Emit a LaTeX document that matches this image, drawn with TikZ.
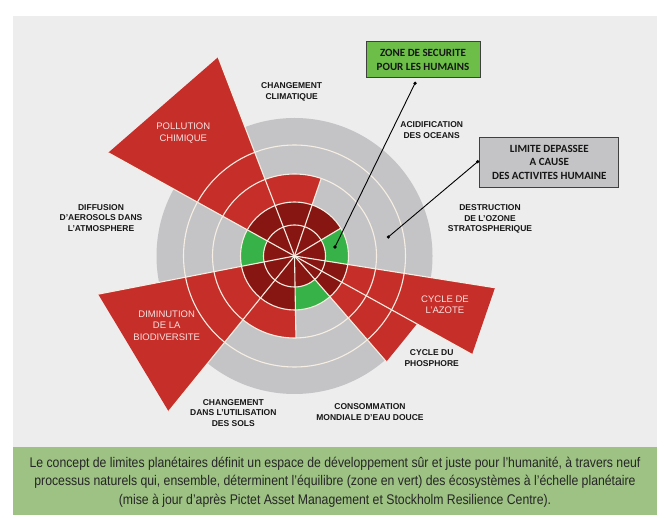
\documentclass[tikz,border=0pt]{standalone}
\usepackage{fontspec}
\setmainfont{Liberation Sans}
\newfontfamily\capfont[FakeStretch=0.875]{Liberation Sans}
\newfontfamily\boxfont{Carlito}
\definecolor{panelbg}{RGB}{237,237,238}
\definecolor{capgreen}{RGB}{157,194,131}
\definecolor{wgray}{RGB}{196,196,198}
\definecolor{wred}{RGB}{198,46,42}
\definecolor{wdark}{RGB}{135,22,18}
\definecolor{wgreen}{RGB}{55,178,72}
\definecolor{wline}{RGB}{246,238,226}
\definecolor{zonegreen}{RGB}{108,190,72}
\definecolor{limgray}{RGB}{196,196,198}
\definecolor{txtdark}{RGB}{22,22,22}
\definecolor{txtlight}{RGB}{246,226,224}
\tikzset{
  ringline/.style={draw=wline, line width=1.1pt},
  radline/.style={draw=wline, line width=1.1pt},
  blab/.style={align=center, font=\fontsize{8.5}{10.5}\selectfont\bfseries, text=txtdark, inner sep=0pt},
  wlab/.style={align=center, font=\fontsize{9.5}{11.5}\selectfont, text=txtlight, inner sep=0pt},
  infobox/.style={draw=black!75, line width=0.8pt, align=center, font=\boxfont\bfseries\fontsize{11}{13.5}\selectfont, text=txtdark, inner sep=0pt},
  pointer/.style={draw=black, line width=0.9pt},
  dotmark/.style={circle, fill=black, inner sep=0pt, minimum size=3.6pt}
}
\begin{document}
\begin{tikzpicture}[x=1pt,y=1pt]
\useasboundingbox (0,0) rectangle (666,517);
\fill[white] (0,0) rectangle (666,517);
\fill[panelbg] (13,70) rectangle (657,501);
\fill[capgreen] (13,2) rectangle (657,70);

\begin{scope}[shift={(294.5,261)}]
  \fill[wgray] (0,0) circle[radius=138];
  % extended and partial red wedges
  \fill[wred] (0,0) -- (111:213) -- (151:213) -- cycle;
  \fill[wred] (0,0) -- (191:200) -- (231:200) -- cycle;
  \fill[wred] (0,0) -- (331:203) -- (351:203) -- cycle;
  \fill[wred] (0,0) -- (311:140) -- (331:140) -- cycle;
  \fill[wred] (0,0) -- (71:82) arc[start angle=71, end angle=111, radius=82] -- cycle;
  \fill[wred] (0,0) -- (231:82) arc[start angle=231, end angle=271, radius=82] -- cycle;
  % inner dark red core
  \fill[wdark] (0,0) circle[radius=54];
  % green safe segments
  \foreach \a in {151,271,351}{
    \fill[wgreen] (\a:31) -- (\a:54) arc[start angle=\a, end angle=\a+40, radius=54]
      -- ({\a+40}:31) arc[start angle=\a+40, end angle=\a, radius=31] -- cycle;
  }
  % rings
  \foreach \r in {31,54,82,111}{
    \draw[ringline] (0,0) circle[radius=\r];
  }
  % radial lines
  \foreach \a/\r in {191/200,231/200,271/82,311/140,331/203,351/203,31/54,71/82,111/213,151/213}{
    \draw[radline] (0,0) -- (\a:\r);
  }
  \coordinate (safept) at (40.5,9);
  \coordinate (overpt) at (93.8,19);
\end{scope}

% labels
\node[blab] (clim) at (291.7,425) {CHANGEMENT\\CLIMATIQUE};
\node[blab] (acid) at (431.7,387) {ACIDIFICATION\\DES OCEANS};
\node[blab] (ozone) at (490,298) {DESTRUCTION\\DE L'OZONE\\STRATOSPHERIQUE};
\node[blab] (phos) at (431.7,159) {CYCLE DU\\PHOSPHORE};
\node[blab] (eau) at (370,105) {CONSOMMATION\\MONDIALE D'EAU DOUCE};
\node[blab] (sols) at (233.3,104) {CHANGEMENT\\DANS L'UTILISATION\\DES SOLS};
\node[blab] (aero) at (101,299) {DIFFUSION\\D'AEROSOLS DANS\\L'ATMOSPHERE};
\node[wlab] (poll) at (183.3,384) {POLLUTION\\CHIMIQUE};
\node[wlab] (bio) at (166.7,191.5) {DIMINUTION\\DE LA\\BIODIVERSITE};
\node[wlab] (azote) at (445,212.5) {CYCLE DE\\L'AZOTE};

% info boxes
\node[infobox, fill=zonegreen, minimum width=114pt, minimum height=36pt] (zone) at (423,457.3) {ZONE DE SECURITE\\POUR LES HUMAINS};
\node[infobox, fill=limgray, minimum width=139pt, minimum height=50pt] (limite) at (549.3,354.7) {LIMITE DEPASSEE\\A CAUSE\\DES ACTIVITES HUMAINE};

\coordinate (zonept) at (415,433.7);
\coordinate (limpt) at (477.7,355.3);
\draw[pointer] (zonept) -- (safept);
\draw[pointer] (limpt) -- (overpt);
\node[dotmark] (d1) at (zonept) {};
\node[dotmark] (d2) at (safept) {};
\node[dotmark] (d3) at (limpt) {};
\node[dotmark] (d4) at (overpt) {};

% caption
\node[align=center, font=\capfont\fontsize{14}{18.5}\selectfont, text=black!85, inner sep=0pt] (caption) at (335,35) {Le concept de limites planétaires définit un espace de développement sûr et juste pour l’humanité, à travers neuf\\processus naturels qui, ensemble, déterminent l’équilibre (zone en vert) des écosystèmes à l’échelle planétaire\\(mise à jour d’après Pictet Asset Management et Stockholm Resilience Centre).};
\end{tikzpicture}
\end{document}
